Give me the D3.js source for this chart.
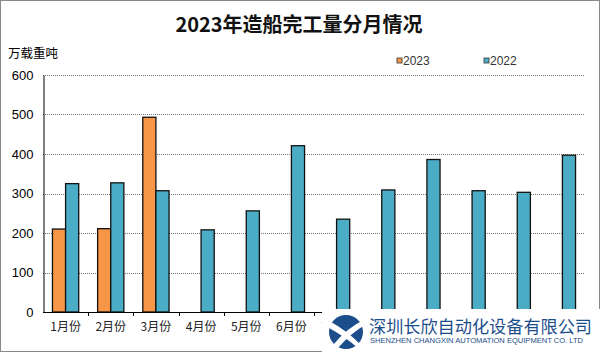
<!DOCTYPE html>
<html><head><meta charset="utf-8">
<script src="https://cdn.jsdelivr.net/npm/d3@7"></script>
<style>body{margin:0;background:#fff;}svg{display:block;}</style>
</head><body>
<div id="chart"></div>
<script>
const months = ["1月份","2月份","3月份","4月份","5月份","6月份","7月份","8月份","9月份","10月份","11月份","12月份"];
const series = ["2023","2022"];
const values2023 = [210, 211, 493, null, null, null, null, null, null, null, null, null];
const values2022 = [325, 327, 307, 208, 256, 421, 235, 309, 386, 307, 303, 397];
const yTicks = [0,100,200,300,400,500,600];
const colors = ["#F79646","#4BACC6"];
const title = "2023年造船完工量分月情况";
const unit = "万载重吨";
const company = "深圳长欣自动化设备有限公司";
const companyEn = "SHENZHEN CHANGXIN AUTOMATION EQUIPMENT CO. LTD";

const W=600,H=352;
const svg=d3.select("#chart").append("svg").attr("width",W).attr("height",H);
svg.append("rect").attr("x",0.5).attr("y",0.5).attr("width",W-1).attr("height",H-1).attr("fill","#fff").attr("stroke","#888");

const m={left:43,right:15,top:75,bottom:40};
const x=d3.scaleBand().domain(months).range([m.left,W-m.right]);
const xs=d3.scaleBand().domain(series).range([0,x.bandwidth()]).paddingInner(0).paddingOuter(0.72);
const y=d3.scaleLinear().domain([0,600]).range([H-m.bottom,m.top]);

// grid
svg.append("g").selectAll("line").data(yTicks.filter(d=>d>0)).join("line")
  .attr("x1",m.left).attr("x2",W-m.right).attr("y1",d=>Math.round(y(d))+0.5).attr("y2",d=>Math.round(y(d))+0.5)
  .attr("stroke","#777").attr("stroke-dasharray","1,1");

// y axis
const ya=svg.append("g").attr("transform",`translate(${m.left+0.5},0)`)
  .call(d3.axisLeft(y).tickValues(yTicks).tickSize(0).tickPadding(10));
ya.select(".domain").attr("stroke","#000");
ya.selectAll("text").attr("font-family","Liberation Sans, Arial, sans-serif").attr("font-size",13).attr("fill","#000");

// bars
const data=months.map((mo,i)=>({mo,vals:[values2023[i],values2022[i]]}));
const g=svg.append("g").selectAll("g").data(data).join("g").attr("transform",d=>`translate(${x(d.mo)},0)`);
g.selectAll("rect").data(d=>d.vals.map((v,j)=>({s:series[j],v,j})).filter(e=>e.v!=null)).join("rect")
  .attr("x",e=>xs(e.s)).attr("width",xs.bandwidth())
  .attr("y",e=>y(e.v)).attr("height",e=>y(0)-y(e.v))
  .attr("fill",e=>colors[e.j]).attr("stroke","#111").attr("stroke-width",1.3);

// x axis
const xa=svg.append("g").attr("transform",`translate(0,${y(0)+0.5})`)
  .call(d3.axisBottom(x).tickSize(0).tickPadding(10));
xa.select(".domain").attr("stroke","#000").attr("d",`M${m.left},0H${W-m.right}`);
xa.selectAll("text").attr("font-family","Noto Sans CJK SC, sans-serif").attr("font-size",12).attr("fill","#222");
// tick marks at band boundaries
svg.append("g").selectAll("line").data(months.slice(1).concat(["end"])).join("line")
  .attr("x1",(d,i)=>Math.round(m.left+x.bandwidth()*(i+1))+0.5).attr("x2",(d,i)=>Math.round(m.left+x.bandwidth()*(i+1))+0.5)
  .attr("y1",y(0)).attr("y2",y(0)+4).attr("stroke","#000");

// title
svg.append("text").attr("x",299).attr("y",32).attr("text-anchor","middle")
  .attr("font-family","Noto Sans CJK SC, sans-serif").attr("font-weight","bold").attr("font-size",20).attr("fill","#111").text(title);
svg.append("text").attr("x",8).attr("y",58).attr("font-family","Noto Sans CJK SC, sans-serif").attr("font-size",12.5).attr("fill","#000").text(unit);

// legend
const leg=svg.append("g").selectAll("g").data(series).join("g").attr("transform",(d,i)=>`translate(${397+i*87},58)`);
leg.append("rect").attr("width",5).attr("height",5).attr("fill",(d,i)=>colors[i]).attr("stroke","#333").attr("stroke-width",0.8);
leg.append("text").attr("x",6).attr("y",6.5).attr("font-family","Liberation Sans, Arial, sans-serif").attr("font-size",12).attr("fill","#333").text(d=>d);

// watermark logo
const lg=svg.append("g");
lg.append("rect").attr("x",322).attr("y",309).attr("width",278).attr("height",43).attr("fill","#fff");
lg.append("circle").attr("cx",346).attr("cy",332).attr("r",17).attr("fill","#1d4e8c");
lg.append("path").attr("d","M331,322 Q346,330 361,345 L358,348 Q344,336 329,328 Z").attr("fill","#fff");
lg.append("path").attr("d","M333,345 Q348,327 364,320 L365,325 Q351,333 338,348 Z").attr("fill","#fff");
lg.append("text").attr("x",369).attr("y",333).attr("font-family","Noto Sans CJK SC, sans-serif").attr("font-size",17.5).attr("fill","#1d4e8c").text(company)
  .attr("textLength",223).attr("lengthAdjust","spacingAndGlyphs");
lg.append("text").attr("x",370).attr("y",343).attr("font-family","Liberation Sans Narrow, Arial Narrow, sans-serif").attr("font-size",7.5).attr("fill","#1d4e8c").text(companyEn)
  .attr("textLength",213).attr("lengthAdjust","spacingAndGlyphs");
</script>
</body></html>
